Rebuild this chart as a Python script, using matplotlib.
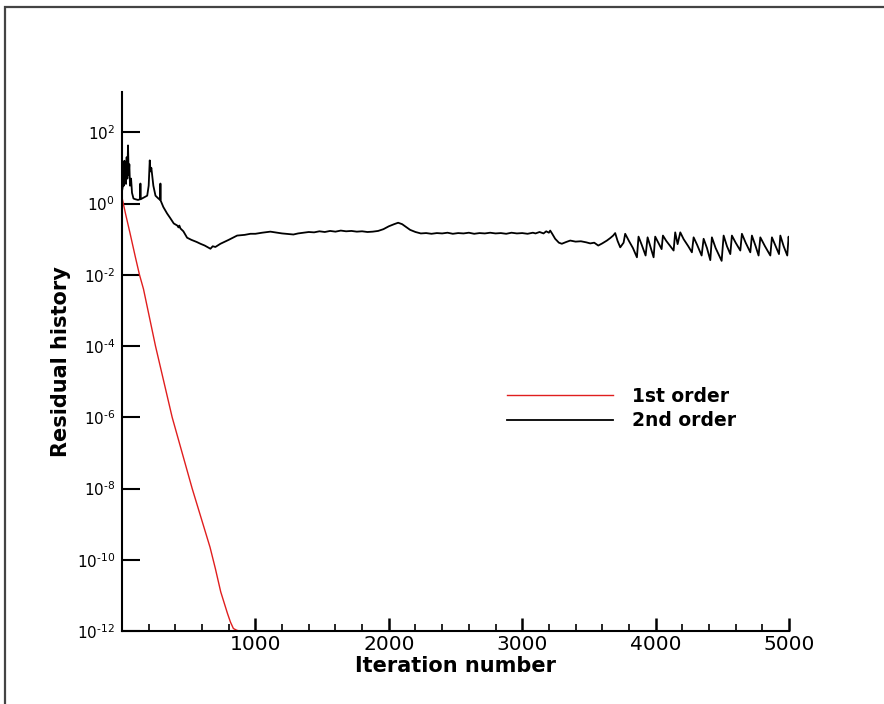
import numpy as np
import matplotlib
matplotlib.use("Agg")
import matplotlib.pyplot as plt
import matplotlib.patches as patches

# 1st order residual (iteration, log10 residual)
it1 = [0, 26, 60, 100, 131, 161, 251, 376, 526, 660, 700, 740, 790, 813, 835, 860, 880, 903, 930]
lg1 = [0.17, -0.28, -0.83, -1.5, -2.0, -2.4, -4.0, -6.0, -8.0, -9.65, -10.25, -10.9, -11.5, -11.75, -11.93, -11.98, -12.0, -12.02, -12.2]

# 2nd order residual (iteration, log10 residual)
it2 = [0, 5, 10, 14, 18, 22, 26, 30, 35, 40, 45, 50, 55, 60, 68, 75, 86, 100, 120, 136, 138, 140,
       160, 189, 200, 208, 214, 220, 226, 235, 251, 270, 286, 288, 290, 310, 338, 360, 388, 415, 423,
       430, 438, 460, 488, 520, 560, 588, 620, 663, 680, 700, 738, 800, 863, 920, 963, 1000, 1050,
       1112, 1200, 1285, 1320, 1360, 1400, 1440, 1480, 1520, 1560, 1600, 1640, 1680, 1720, 1760,
       1800, 1840, 1880, 1920, 1960, 2000, 2040, 2070, 2100, 2130, 2160, 2200, 2240, 2280, 2320,
       2360, 2400, 2440, 2480, 2520, 2560, 2600, 2640, 2680, 2720, 2760, 2800, 2840, 2880, 2920,
       2960, 3000, 3040, 3080, 3100, 3130, 3160, 3180, 3200, 3210, 3225, 3247, 3275, 3297, 3330,
       3360, 3400, 3440, 3480, 3510, 3540, 3570, 3600, 3635, 3660, 3682,
       3697, 3715, 3735, 3760, 3772, 3800, 3830, 3860, 3872, 3895, 3925, 3940, 3960, 3985, 3997,
       4020, 4045, 4055, 4080, 4110, 4135, 4147, 4165, 4185, 4210, 4245, 4272, 4285, 4310, 4345,
       4360, 4385, 4410, 4422, 4450, 4495, 4510, 4535, 4560, 4572, 4600, 4635, 4647, 4675, 4710,
       4722, 4750, 4772, 4785, 4820, 4860, 4872, 4900, 4925, 4935, 4960, 4987, 4997, 5000]
lg2 = [0.35, 0.45, 0.9, 0.5, 1.2, 0.6, 1.0, 0.55, 1.3, 0.7, 1.63, 0.8, 1.1, 0.5, 0.7, 0.3, 0.14, 0.12, 0.10, 0.12, 0.56, 0.12,
       0.16, 0.22, 0.5, 1.21, 0.9, 1.0, 0.79, 0.5, 0.22, 0.15, 0.10, 0.56, 0.08, -0.10, -0.28, -0.40, -0.56, -0.62, -0.67,
       -0.62, -0.70, -0.78, -0.96, -1.02, -1.08, -1.13, -1.18, -1.27, -1.20, -1.22, -1.13, -1.02, -0.90, -0.88, -0.85, -0.85, -0.82,
       -0.79, -0.84, -0.87, -0.84, -0.82, -0.80, -0.81, -0.78, -0.80, -0.77, -0.79, -0.76, -0.78, -0.77, -0.79,
       -0.78, -0.80, -0.79, -0.77, -0.72, -0.64, -0.58, -0.54, -0.58, -0.66, -0.74, -0.80, -0.84, -0.83, -0.85,
       -0.83, -0.84, -0.82, -0.85, -0.83, -0.84, -0.82, -0.85, -0.83, -0.84, -0.82, -0.84, -0.83, -0.85, -0.82,
       -0.84, -0.83, -0.85, -0.82, -0.84, -0.80, -0.84, -0.78, -0.82, -0.76, -0.85, -0.99, -1.10, -1.13, -1.08,
       -1.04, -1.07, -1.06, -1.09, -1.12, -1.10, -1.18, -1.12, -1.04, -0.97, -0.90,
       -0.83, -1.05, -1.23, -1.10, -0.85, -1.05, -1.25, -1.51, -0.93, -1.15, -1.46, -0.95, -1.20, -1.51, -0.93,
       -1.10, -1.28, -0.90, -1.05, -1.20, -1.32, -0.81, -1.14, -0.81, -1.00, -1.20, -1.37, -0.95, -1.15, -1.46,
       -0.99, -1.25, -1.59, -0.95, -1.25, -1.61, -0.90, -1.20, -1.42, -0.90, -1.10, -1.32, -0.85, -1.10, -1.37,
       -0.90, -1.20, -1.46, -0.95, -1.20, -1.46, -0.95, -1.20, -1.42, -0.90, -1.20, -1.46, -0.93, -1.05]

ytick_exps = [-12, -10, -8, -6, -4, -2, 0, 2]
xticks = [1000, 2000, 3000, 4000, 5000]

fig = plt.figure(figsize=(8.84, 7.04), dpi=100)
ax = fig.add_axes([122 / 884, 1 - 631 / 704, (789 - 122) / 884, (631 - 92) / 704])

ax.plot(it1, 10.0 ** np.array(lg1), color="#e01e1e", lw=1.0, label="1st order")
ax.plot(it2, 10.0 ** np.array(lg2), color="black", lw=1.3, label="2nd order")

ax.set_yscale("log")
ax.set_xlim(0, 5000)
ax.set_ylim(1e-12, 10 ** 3.13)
ax.set_yticks([10.0 ** e for e in ytick_exps])
# plain hyphen in the exponent, like the original
ax.set_yticklabels([r"$\mathregular{10^{%s}}$" % str(e).replace("-", "\u2010") for e in ytick_exps], fontsize=11)
ax.yaxis.set_minor_locator(matplotlib.ticker.NullLocator())
ax.set_xticks(xticks)
ax.set_xticklabels([str(t) for t in xticks], fontsize=14.5)
ax.set_xticks(np.arange(200, 5000, 200), minor=True)

ax.tick_params(axis="y", which="major", direction="in", length=12.7, width=1.5, pad=5)
ax.tick_params(axis="x", which="major", direction="in", length=9.5, width=1.8, pad=3)
ax.tick_params(axis="x", which="minor", direction="in", length=5, width=1.2)

for s in ["top", "right"]:
    ax.spines[s].set_visible(False)
for s in ["left", "bottom"]:
    ax.spines[s].set_linewidth(1.5)

ax.set_xlabel("Iteration number", fontsize=15, fontweight="bold", labelpad=1)
ax.set_ylabel("Residual history", fontsize=15, fontweight="bold", labelpad=4)

ax.legend(loc="upper left", bbox_to_anchor=(507 / 884, 1 - 387 / 704), bbox_transform=fig.transFigure,
          frameon=False, borderpad=0, borderaxespad=0, handlelength=5.65, handletextpad=1.0,
          labelspacing=0.27, prop={"size": 13.5, "weight": "bold"})

frame = patches.Rectangle((5 / 884, -0.1), 1.5, 0.99 + 0.1, transform=fig.transFigure,
                          fill=False, edgecolor="#444444", lw=1.6)
fig.patches.append(frame)

fig.savefig("out.png", dpi=100)
